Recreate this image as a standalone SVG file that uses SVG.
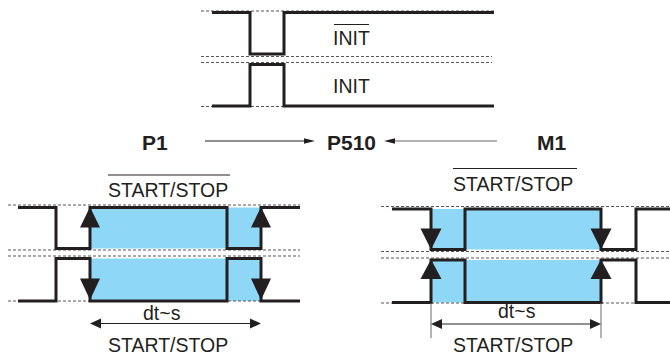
<svg xmlns="http://www.w3.org/2000/svg" width="670" height="356" viewBox="0 0 670 356">
<defs>
<style>
.sig{fill:none;stroke:#231f20;stroke-width:3;stroke-linejoin:miter;stroke-linecap:butt}
.dash{fill:none;stroke:#444;stroke-width:0.9;stroke-dasharray:3 2}
.blue{fill:#8ed7f7;stroke:none}
.tri{fill:#231f20}
.thin{fill:none;stroke:#231f20;stroke-width:1}
.ext{fill:none;stroke:#666;stroke-width:1}
.lbl{font-family:"Liberation Sans",Arial,sans-serif;font-size:19.5px;fill:#231f20}
.bold{font-family:"Liberation Sans",Arial,sans-serif;font-size:21px;font-weight:bold;fill:#231f20}
</style>
</defs>

<g id="init-signals">
  <line class="dash" x1="201" y1="11" x2="494" y2="11"/>
  <line class="dash" x1="201" y1="56.5" x2="492" y2="56.5"/>
  <line class="dash" x1="201" y1="62.5" x2="492" y2="62.5"/>
  <line class="dash" x1="201" y1="106.5" x2="494" y2="106.5"/>
  <path class="sig" d="M212,12.5 H250 V54 H284 V12.5 H494"/>
  <path class="sig" d="M212,106 H250 V64.5 H284 V106 H494"/>
  <text class="lbl" x="333" y="45">INIT</text>
  <line class="thin" x1="334" y1="24.5" x2="369" y2="24.5"/>
  <text class="lbl" x="333" y="93">INIT</text>
</g>

<g id="P1"><text class="bold" x="142" y="150">P1</text></g>
<g id="P510"><text class="bold" x="327" y="150">P510</text></g>
<g id="M1"><text class="bold" x="537" y="150">M1</text></g>

<g id="connectors">
  <line class="thin" x1="205" y1="141" x2="306" y2="141"/>
  <polygon class="tri" points="315,141 304,138.3 304,143.7"/>
  <line class="ext" x1="497" y1="141" x2="393" y2="141"/>
  <polygon class="tri" points="384,141 395,138.3 395,143.7"/>
</g>

<g id="p1-timing">
  <rect class="blue" x="90" y="207.5" width="171" height="41"/>
  <rect class="blue" x="90" y="258.5" width="171" height="42.5"/>
  <line class="dash" x1="8" y1="205" x2="300" y2="205"/>
  <line class="dash" x1="8" y1="250" x2="300" y2="250"/>
  <line class="dash" x1="8" y1="256" x2="300" y2="256"/>
  <line class="dash" x1="8" y1="301" x2="300" y2="301"/>
  <path class="sig" d="M18,207.5 H56 V248.5 H90 V207.5 H227 V248.5 H261 V207.5 H300"/>
  <path class="sig" d="M18,301 H56 V258.5 H90 V301 H227 V258.5 H261 V301 H300"/>
  <polygon class="tri" points="90,207 80,227.5 100,227.5"/>
  <polygon class="tri" points="261,207 251,227.5 271,227.5"/>
  <polygon class="tri" points="90,300 80,278.5 100,278.5"/>
  <polygon class="tri" points="261,300 251,278.5 271,278.5"/>
  <line class="thin" x1="98" y1="323.5" x2="253" y2="323.5"/>
  <polygon class="tri" points="90,323.5 101,318.5 101,328.5"/>
  <polygon class="tri" points="261,323.5 250,318.5 250,328.5"/>
  <text class="lbl" x="143" y="320">dt~s</text>
  <text class="lbl" x="108" y="196.5">START/STOP</text>
  <line class="thin" x1="108" y1="175" x2="230" y2="175"/>
  <text class="lbl" x="108" y="352">START/STOP</text>
</g>

<g id="m1-timing">
  <rect class="blue" x="431" y="209" width="170" height="40.5"/>
  <rect class="blue" x="431" y="260" width="170" height="42.5"/>
  <line class="dash" x1="381" y1="206.5" x2="670" y2="206.5"/>
  <line class="dash" x1="381" y1="251.5" x2="670" y2="251.5"/>
  <line class="dash" x1="381" y1="258" x2="670" y2="258"/>
  <line class="dash" x1="381" y1="303" x2="670" y2="303"/>
  <path class="sig" d="M392,209 H431 V249.5 H465 V209 H601 V249.5 H636 V209 H670"/>
  <path class="sig" d="M392,302.5 H431 V260 H465 V302.5 H601 V260 H636 V302.5 H670"/>
  <polygon class="tri" points="431,249.5 420.5,228.5 441.5,228.5"/>
  <polygon class="tri" points="601,249.5 590.5,228.5 611.5,228.5"/>
  <polygon class="tri" points="431,259.5 420.5,279 441.5,279"/>
  <polygon class="tri" points="601,259.5 590.5,279 611.5,279"/>
  <line class="ext" x1="431" y1="303" x2="431" y2="338"/>
  <line class="ext" x1="601" y1="303" x2="601" y2="338"/>
  <line class="thin" x1="439" y1="324" x2="593" y2="324"/>
  <polygon class="tri" points="431,324 442,319 442,329"/>
  <polygon class="tri" points="601,324 590,319 590,329"/>
  <text class="lbl" x="498" y="318">dt~s</text>
  <text class="lbl" x="453" y="190.5">START/STOP</text>
  <line class="thin" x1="453" y1="168.5" x2="577" y2="168.5"/>
  <text class="lbl" x="453" y="352">START/STOP</text>
</g>
</svg>
